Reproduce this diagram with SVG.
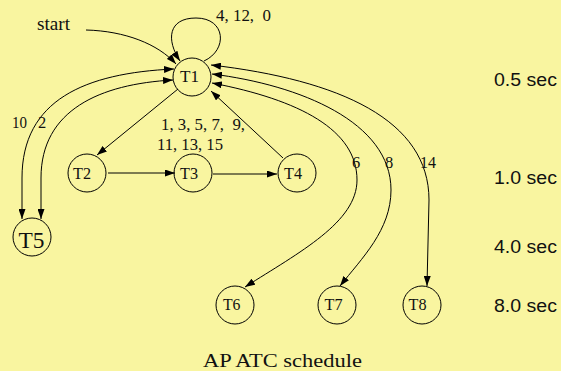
<svg xmlns="http://www.w3.org/2000/svg" width="561" height="371" viewBox="0 0 561 371">
  <style>
    .node circle { fill: none; stroke: #000; stroke-width: 1; }
    .node text, .lbl { font-family: "Liberation Serif", "Times New Roman", serif; fill: #111; }
    .node text { font-size: 17px; }
    .lbl { font-size: 16.5px; white-space: pre; }
    .sec { font-family: "Liberation Sans", Arial, sans-serif; font-size: 18px; fill: #111; }
    #edges path { fill: none; stroke: #000; stroke-width: 1; }
  </style>
  <defs>
    <marker id="arr" viewBox="0 0 10 7" refX="10" refY="3.5" markerWidth="10" markerHeight="7" markerUnits="userSpaceOnUse" orient="auto-start-reverse">
      <path d="M0,0 L10,3.5 L0,7 z" fill="#000"/>
    </marker>
  </defs>

  <rect width="561" height="371" fill="#F9F5A0"/>

  <!-- connectors -->
  <g id="edges">
    <!-- start -->
    <path d="M86,30 C125,31 158,44 176,64" marker-end="url(#arr)"/>
    <!-- T1 self loop -->
    <path d="M204,61 C228,50 226,18 196,18 C168,18 166,40 180,61" marker-end="url(#arr)"/>
    <!-- T1 <-> T5 -->
    <path d="M174,69 C85,73 22,100 22,178 L22,219" marker-start="url(#arr)" marker-end="url(#arr)"/>
    <path d="M173,80 C100,84 41,110 41,178 L41,219" marker-start="url(#arr)" marker-end="url(#arr)"/>
    <!-- ring T1 -> T2 -> T3 -> T4 -> T1 -->
    <path d="M178,89 L97,155" marker-end="url(#arr)"/>
    <path d="M108,173 L175,173" marker-end="url(#arr)"/>
    <path d="M213,174 L277,174" marker-end="url(#arr)"/>
    <path d="M283,158 L211,91" marker-end="url(#arr)"/>
    <!-- T1 <-> T6, T7, T8 -->
    <path d="M212,83 C300,100 357,130 357,180 C357,222 300,252 245,287" marker-start="url(#arr)" marker-end="url(#arr)"/>
    <path d="M212,74 C300,85 391,122 391,190 C391,230 362,258 340,286" marker-start="url(#arr)" marker-end="url(#arr)"/>
    <path d="M211,65 C340,80 429,120 429,200 L427,286" marker-start="url(#arr)" marker-end="url(#arr)"/>
  </g>

  <!-- nodes -->
  <g id="T1" class="node"><circle cx="192" cy="77" r="19"/><text x="180" y="82" textLength="19" lengthAdjust="spacingAndGlyphs">T1</text></g>
  <g id="T2" class="node"><circle cx="87" cy="173" r="19"/><text x="73" y="178.5" textLength="18" lengthAdjust="spacingAndGlyphs">T2</text></g>
  <g id="T3" class="node"><circle cx="193" cy="173" r="19"/><text x="180" y="178.5" textLength="18" lengthAdjust="spacingAndGlyphs">T3</text></g>
  <g id="T4" class="node"><circle cx="297" cy="173" r="19"/><text x="284" y="178.5" textLength="18" lengthAdjust="spacingAndGlyphs">T4</text></g>
  <g id="T5" class="node"><circle cx="32" cy="237" r="19"/><text x="18.5" y="248" style="font-size:24px" textLength="26" lengthAdjust="spacingAndGlyphs">T5</text></g>
  <g id="T6" class="node"><circle cx="235" cy="305" r="19"/><text x="223" y="310" textLength="17.5" lengthAdjust="spacingAndGlyphs">T6</text></g>
  <g id="T7" class="node"><circle cx="337" cy="305" r="19"/><text x="324.5" y="310" textLength="18" lengthAdjust="spacingAndGlyphs">T7</text></g>
  <g id="T8" class="node"><circle cx="422" cy="305" r="19"/><text x="408.5" y="310" textLength="18" lengthAdjust="spacingAndGlyphs">T8</text></g>

  <!-- edge labels -->
  <g id="labels">
    <text class="lbl" x="37" y="30" style="font-size:18px" textLength="33" lengthAdjust="spacingAndGlyphs">start</text>
    <text class="lbl" x="216" y="21" textLength="55" lengthAdjust="spacingAndGlyphs">4, 12,  0</text>
    <text class="lbl" x="161" y="130" textLength="84" lengthAdjust="spacingAndGlyphs">1, 3, 5, 7,  9,</text>
    <text class="lbl" x="157" y="150" textLength="66" lengthAdjust="spacingAndGlyphs">11, 13, 15</text>
    <text class="lbl" x="12" y="128" textLength="15" lengthAdjust="spacingAndGlyphs">10</text>
    <text class="lbl" x="38" y="128">2</text>
    <text class="lbl" x="352" y="168">6</text>
    <text class="lbl" x="385" y="168">8</text>
    <text class="lbl" x="420" y="168" textLength="16" lengthAdjust="spacingAndGlyphs">14</text>
  </g>

  <!-- period column -->
  <g id="periods">
    <text class="sec" x="494" y="86" textLength="63" lengthAdjust="spacingAndGlyphs">0.5 sec</text>
    <text class="sec" x="494" y="184" textLength="63" lengthAdjust="spacingAndGlyphs">1.0 sec</text>
    <text class="sec" x="494" y="253" textLength="63" lengthAdjust="spacingAndGlyphs">4.0 sec</text>
    <text class="sec" x="494" y="312" textLength="63" lengthAdjust="spacingAndGlyphs">8.0 sec</text>
  </g>

  <text class="lbl" x="203" y="367" style="font-size:19px" textLength="159" lengthAdjust="spacingAndGlyphs">AP ATC schedule</text>
</svg>
